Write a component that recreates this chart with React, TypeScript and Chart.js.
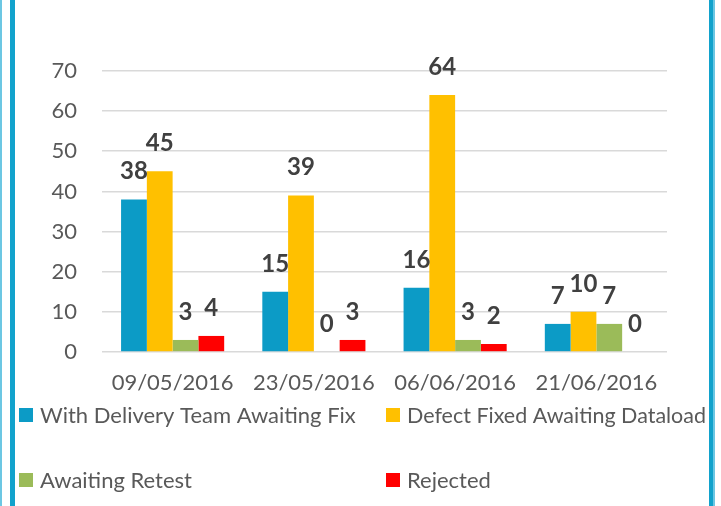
import React, { useEffect, useRef } from "react";
import { Chart, registerables } from "chart.js";

Chart.register(...registerables);

const categories = ["09/05/2016", "23/05/2016", "06/06/2016", "21/06/2016"];
const seriesNames = [
  "With Delivery Team Awaiting Fix",
  "Defect Fixed Awaiting Dataload",
  "Awaiting Retest",
  "Rejected",
];
const withDelivery = [38, 15, 16, 7];
const defectFixed = [45, 39, 64, 10];
const awaitingRetest = [3, 0, 3, 7];
const rejected = [4, 3, 2, 0];
const seriesColors = ["#0C9BC6", "#FFC000", "#9BBB59", "#FF0000"];
const yTicks = [0, 10, 20, 30, 40, 50, 60, 70];

const FONT = "Lato, 'Open Sans', sans-serif";

const dataLabelPlugin = {
  id: "dataLabels",
  afterDatasetsDraw(chart: any) {
    const ctx = chart.ctx;
    ctx.save();
    ctx.font = `bold 24px ${FONT}`;
    ctx.fillStyle = "#404040";
    ctx.textAlign = "center";
    ctx.textBaseline = "middle";
    chart.data.datasets.forEach((ds: any, i: number) => {
      const meta = chart.getDatasetMeta(i);
      meta.data.forEach((el: any, j: number) => {
        ctx.fillText(String(ds.data[j]), el.x, el.y - 28);
      });
    });
    ctx.restore();
  },
};

const legendPlugin = {
  id: "customLegend",
  afterDraw(chart: any) {
    const ctx = chart.ctx;
    ctx.save();
    ctx.font = `22px ${FONT}`;
    ctx.textBaseline = "middle";
    ctx.textAlign = "left";
    const cols = [19, 386];
    const maxW = [330, 299];
    const rows = [415, 480];
    chart.data.datasets.forEach((ds: any, i: number) => {
      const c = i % 2;
      const x = cols[c];
      const y = rows[Math.floor(i / 2)];
      ctx.fillStyle = ds.backgroundColor;
      ctx.fillRect(x, y - 7, 14, 14);
      ctx.fillStyle = "#595959";
      ctx.fillText(ds.label, x + 21, y + 1, maxW[c]);
    });
    ctx.restore();
  },
};

export default function App() {
  const ref = useRef<HTMLCanvasElement | null>(null);
  useEffect(() => {
    if (!ref.current) return;
    const values = [withDelivery, defectFixed, awaitingRetest, rejected];
    const chart = new Chart(ref.current, {
      type: "bar",
      data: {
        labels: categories,
        datasets: values.map((v, i) => ({
          label: seriesNames[i],
          data: v,
          backgroundColor: seriesColors[i],
          borderWidth: 0,
          categoryPercentage: 0.73,
          barPercentage: 1.0,
        })),
      },
      options: {
        responsive: false,
        animation: false,
        devicePixelRatio: 1,
        layout: { padding: { left: 0, right: 54, top: 71, bottom: 104 } },
        plugins: {
          legend: { display: false },
          tooltip: { enabled: false },
        },
        scales: {
          x: {
            grid: { display: false, drawTicks: false },
            border: { display: false },
            ticks: {
              color: "#595959",
              font: { family: FONT, size: 22 },
              padding: 18,
              maxRotation: 0,
            },
            afterFit: (s: any) => {
              s.height = 50;
            },
          },
          y: {
            min: 0,
            max: 70,
            afterBuildTicks: (s: any) => {
              s.ticks = yTicks.map((v) => ({ value: v }));
            },
            grid: { color: "#D9D9D9", lineWidth: 1.6, drawTicks: false },
            border: { display: false },
            ticks: {
              color: "#595959",
              font: { family: FONT, size: 22 },
              padding: 25,
            },
            afterFit: (s: any) => {
              s.width = 102;
            },
          },
        },
      },
      plugins: [dataLabelPlugin, legendPlugin],
    });
    return () => chart.destroy();
  }, []);

  return (
    <div
      style={{
        position: "absolute",
        left: 0,
        top: 0,
        width: 721,
        height: 506,
        background: "#fff",
        overflow: "hidden",
      }}
    >
      <canvas ref={ref} width={721} height={506} style={{ position: "absolute", left: 0, top: 0 }} />
      <div style={{ position: "absolute", left: 0, top: 0, width: 2, height: 506, background: "#6CC7E3" }} />
      <div style={{ position: "absolute", left: 10, top: 0, width: 5, height: 506, background: "#12A2CC" }} />
      <div style={{ position: "absolute", left: 709, top: 0, width: 4, height: 506, background: "#12A2CC" }} />
      <div style={{ position: "absolute", left: 713, top: 0, width: 2, height: 506, background: "#6CC7E3" }} />
    </div>
  );
}
